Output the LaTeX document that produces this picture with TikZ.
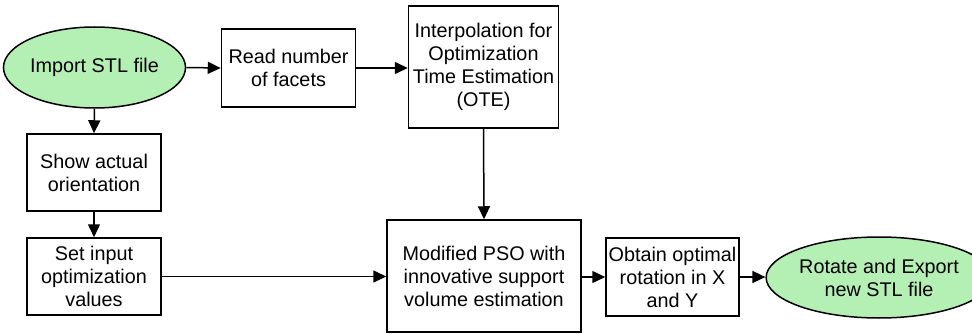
\documentclass[tikz,border=0pt]{standalone}
\usepackage{fontspec}
\setmainfont{Liberation Sans}
\usetikzlibrary{shapes.geometric,arrows.meta}
\definecolor{lgreen}{RGB}{180,240,180}
\begin{document}
\begin{tikzpicture}[x=1pt,y=-1pt,
  every node/.style={font=\fontsize{19.8}{23}\selectfont, align=center, inner sep=0pt, line width=1.5pt},
  boxn/.style={draw, rectangle},
  ovaln/.style={draw, ellipse, fill=lgreen},
  conn/.style={line width=1.5pt, -{Triangle[length=13pt,width=12pt]}}]
\useasboundingbox (0,0) rectangle (972,334);
\node[ovaln, minimum width=167pt, minimum height=81pt] (imp) at (94.5,67.5) {Import STL file};
\node[boxn, minimum width=134pt, minimum height=78pt] (read) at (288.5,68) {Read number\\of facets};
\node[boxn, minimum width=150pt, minimum height=122pt] (interp) at (483.5,67) {Interpolation for\\Optimization\\Time Estimation\\(OTE)};
\node[boxn, minimum width=134pt, minimum height=77pt] (show) at (94,172.5) {Show actual\\orientation};
\node[boxn, minimum width=134pt, minimum height=77pt] (set) at (94,276.5) {Set input\\optimization\\values};
\node[boxn, minimum width=194pt, minimum height=112pt] (pso) at (484,276) {Modified PSO with\\innovative support\\volume estimation};
\node[boxn, minimum width=133pt, minimum height=78pt] (obt) at (672.5,277) {Obtain optimal\\rotation in X\\and Y};
\node[ovaln, minimum width=180pt, minimum height=81pt] (rot) at (879,277.5) {Rotate and Export\\new STL file};
\draw[conn] (imp.east) -- (read.west);
\draw[conn] (read.east) -- (read.east -| interp.west);
\draw[conn] (imp.south) -- (show.north);
\draw[conn] (show.south) -- (set.north);
\draw[conn] (set.east) -- (set.east -| pso.west);
\draw[conn] (interp.south) -- (pso.north);
\draw[conn] (pso.east |- obt.west) -- (obt.west);
\draw[conn] (obt.east) -- (obt.east -| rot.west);
\end{tikzpicture}
\end{document}
